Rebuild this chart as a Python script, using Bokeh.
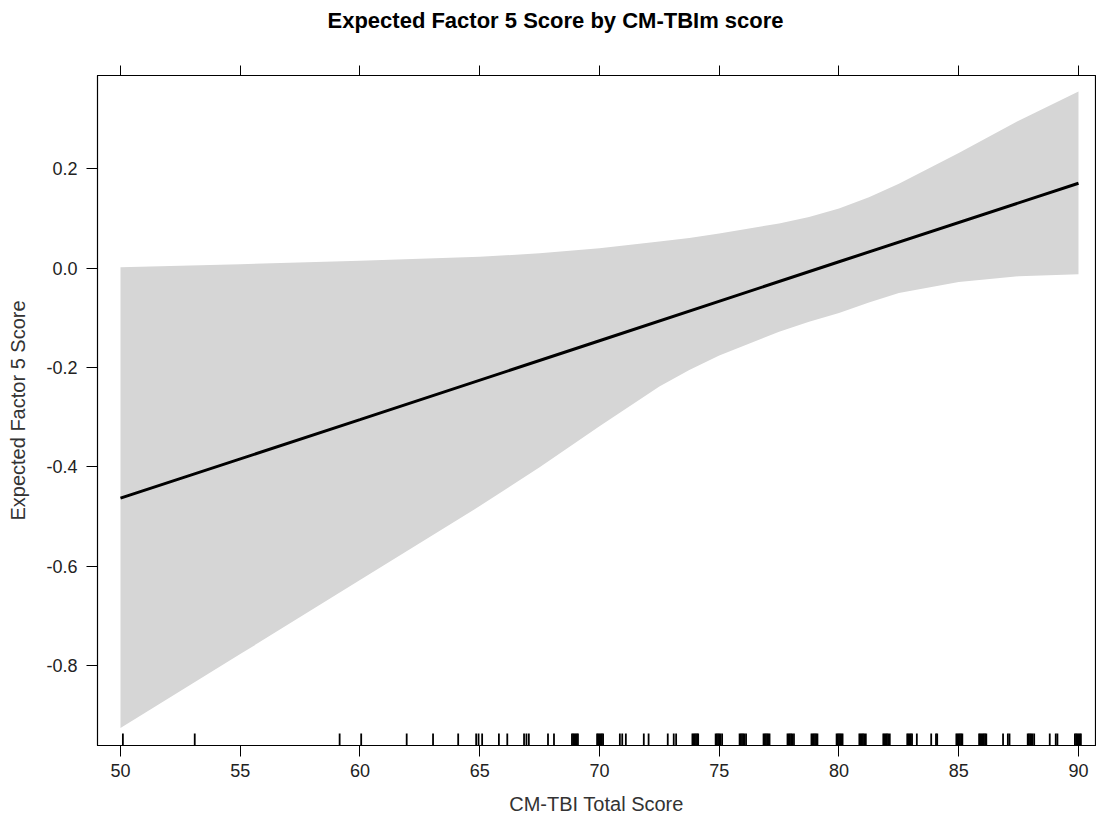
from bokeh.plotting import figure
from bokeh.models import Range1d, FixedTicker, PrintfTickFormatter, LinearAxis, CustomLabelingPolicy
from bokeh.embed import file_html
from bokeh.resources import INLINE

# ---- data ----
band_x = [50, 55, 60, 65, 67.5, 70, 72.5, 73.75, 75, 77.5, 78.75, 80, 81.25,
          82.5, 85, 87.5, 90]
band_upper = [0.002, 0.008, 0.015, 0.023, 0.030, 0.040, 0.054, 0.061, 0.070,
              0.090, 0.103, 0.120, 0.143, 0.170, 0.232, 0.297, 0.356]
band_lower = [-0.926, -0.777, -0.628, -0.479, -0.401, -0.318, -0.238, -0.205,
              -0.176, -0.128, -0.108, -0.090, -0.069, -0.050, -0.028, -0.016,
              -0.012]

fit_x = [50, 60, 70, 80, 90]
fit_y = [-0.463, -0.305, -0.146, 0.013, 0.171]

rug_x = [50.1, 53.1, 59.15, 60.05, 61.95, 63.05, 64.1, 64.85, 64.95, 65.1,
         65.8, 66.15, 66.85, 66.95, 67.05, 67.85, 68.1,
         68.85, 68.9, 68.95, 69.0, 69.05, 69.1,
         69.9, 69.95, 70.0, 70.05, 70.1, 70.15,
         70.85, 70.95, 71.1,
         71.85, 72.05,
         72.85, 73.1, 73.2,
         73.88, 73.93, 73.98, 74.03, 74.08, 74.12,
         74.85, 74.9, 74.95, 75.0, 75.05, 75.12,
         75.85, 75.9, 75.95, 76.0, 76.05, 76.12,
         76.85, 76.9, 76.95, 77.0, 77.05, 77.1,
         77.85, 77.9, 77.95, 78.0, 78.05, 78.12,
         78.85, 78.9, 78.95, 79.0, 79.05, 79.1,
         79.9, 79.95, 80.0, 80.05, 80.1, 80.15,
         80.85, 80.9, 80.95, 81.0, 81.05, 81.12,
         81.85, 81.9, 81.95, 82.0, 82.05, 82.12,
         82.85, 82.9, 82.95, 83.0, 83.05, 83.25,
         83.85, 84.05, 84.1,
         84.9, 84.95, 85.0, 85.05, 85.1, 85.15,
         85.85, 85.9, 85.95, 86.0, 86.05, 86.1, 86.15,
         86.85, 87.05, 87.12,
         87.88, 87.93, 87.98, 88.03, 88.08, 88.15,
         88.8, 89.05, 89.12,
         89.85, 89.9, 89.95, 90.0, 90.05, 90.1]

x_ticks = [50, 55, 60, 65, 70, 75, 80, 85, 90]
y_ticks = [-0.8, -0.6, -0.4, -0.2, 0.0, 0.2]

title_text = "Expected Factor 5 Score by CM-TBIm score"
x_label = "CM-TBI Total Score"
y_label = "Expected Factor 5 Score"

FONT = "Liberation Sans"

x_range = Range1d(49.04, 90.71)
y_range = Range1d(-0.961, 0.388)

p = figure(frame_width=998, frame_height=670,
           x_range=x_range, y_range=y_range,
           output_backend="svg", toolbar_location=None,
           min_border_left=97, min_border_right=1,
           min_border_top=75, min_border_bottom=10,
           x_axis_location="below")

p.title.text = title_text
p.title.align = "left"
p.title.offset = 230
p.title.text_font = FONT
p.title.text_font_size = "22px"
p.title.text_font_style = "bold"
p.title.text_color = "#000000"
p.title.standoff = 8

p.grid.visible = False
p.outline_line_color = "#000000"
p.outline_line_width = 1.2
p.background_fill_color = "white"
p.border_fill_color = "white"

# band
p.varea(x=band_x, y1=band_lower, y2=band_upper, fill_color="#D6D6D6")
# fit line
p.line(fit_x, fit_y, line_color="#000000", line_width=3)
# rug
rug_len = (y_range.end - y_range.start) * 12.0 / 670.0
p.segment(x0=rug_x, y0=[y_range.start] * len(rug_x),
          x1=rug_x, y1=[y_range.start + rug_len] * len(rug_x),
          line_color="#000000", line_width=1.8)

for ax in (p.xaxis[0], p.yaxis[0]):
    ax.axis_line_color = "#000000"
    ax.major_tick_line_color = "#000000"
    ax.minor_tick_line_color = None
    ax.major_tick_in = 0
    ax.major_tick_out = 11
    ax.major_label_text_font = FONT
    ax.major_label_text_font_size = "18px"
    ax.major_label_text_color = "#222222"
    ax.axis_label_text_font = FONT
    ax.axis_label_text_font_size = "20px"
    ax.axis_label_text_font_style = "normal"
    ax.axis_label_text_color = "#333333"

p.xaxis[0].ticker = FixedTicker(ticks=x_ticks)
p.yaxis[0].ticker = FixedTicker(ticks=y_ticks)
p.yaxis[0].formatter = PrintfTickFormatter(format="%.1f")
p.xaxis[0].axis_label = x_label
p.yaxis[0].axis_label = y_label
p.xaxis[0].major_label_standoff = 7
p.xaxis[0].axis_label_standoff = 13
p.yaxis[0].major_label_standoff = 9
p.yaxis[0].axis_label_standoff = 14

# top axis: ticks only; an invisible minor tick reserves room so the title sits high
top = LinearAxis(ticker=FixedTicker(ticks=x_ticks, minor_ticks=x_ticks))
top.major_label_policy = CustomLabelingPolicy(
    code="for (const i of indices) { indices.unset(i) } return indices")
top.major_label_text_font_size = "0px"
top.major_label_standoff = 0
top.major_tick_in = 0
top.major_tick_out = 10
top.minor_tick_in = 0
top.minor_tick_out = 39
top.minor_tick_line_color = "#000000"
top.minor_tick_line_alpha = 0.0
top.axis_line_color = "#000000"
top.major_tick_line_color = "#000000"
p.add_layout(top, "above")

open("out.html", "w").write(file_html(p, INLINE))
